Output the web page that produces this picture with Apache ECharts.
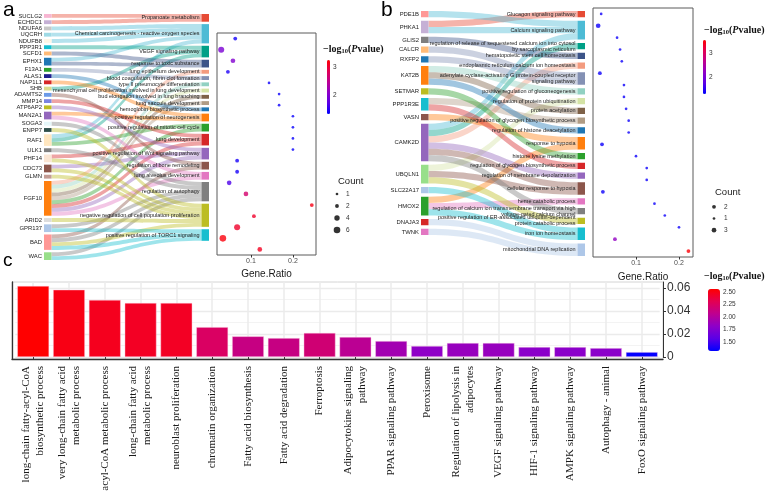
<!DOCTYPE html>
<html><head><meta charset="utf-8">
<script src="https://cdn.jsdelivr.net/npm/echarts@6/dist/echarts.min.js"></script>
<style>html,body{margin:0;padding:0;background:#fff}#c{width:766px;height:494px}</style>
</head><body><div id="c"></div>
<script>
// ---------------- Panel a data ----------------
const genesA = ['SUCLG2','ECHDC1','NDUFA6','UQCRH','NDUFB8','PPP3R1','SCFD1','EPHX1','F13A1','ALAS1','NAP1L1','SHB','ADAMTS2','MMP14','ATP6AP2','MAN2A1','SOGA3','ENPP7','RAF1','ULK1','PHF14','CDC73','GLMN','FGF10','ARID2','GPR137','BAD','WAC'];
const termsA = [
  'Propanoate metabolism',
  'Chemical carcinogenesis - reactive oxygen species',
  'VEGF signaling pathway',
  'response to toxic substance',
  'lung epithelium development',
  'blood coagulation, fibrin clot formation',
  'type II pneumocyte differentiation',
  'mesenchymal cell proliferation involved in lung development',
  'bud elongation involved in lung branching',
  'lung saccule development',
  'hemoglobin biosynthetic process',
  'positive regulation of neurogenesis',
  'positive regulation of mitotic cell cycle',
  'lung development',
  'positive regulation of Wnt signaling pathway',
  'regulation of bone remodeling',
  'lung alveolus development',
  'regulation of autophagy',
  'negative regulation of cell population proliferation',
  'positive regulation of TORC1 signaling'
];
// gene -> term index
const linksA = [
  ['SUCLG2',0],['ECHDC1',0],
  ['NDUFA6',1],['UQCRH',1],['NDUFB8',1],['EPHX1',1],['RAF1',1],
  ['PPP3R1',2],['RAF1',2],['SHB',2],
  ['EPHX1',3],['SCFD1',3],
  ['FGF10',4],['F13A1',5],['FGF10',6],['FGF10',7],['FGF10',8],['FGF10',9],['ALAS1',10],
  ['NAP1L1',11],['MAN2A1',11],
  ['FGF10',12],['RAF1',12],
  ['FGF10',13],['PHF14',13],['MMP14',13],
  ['FGF10',14],['CDC73',14],['ATP6AP2',14],
  ['ADAMTS2',15],['BAD',15],
  ['FGF10',16],['MAN2A1',16],
  ['ULK1',17],['SOGA3',17],['BAD',17],['WAC',17],['GPR137',17],
  ['PHF14',18],['CDC73',18],['GLMN',18],['ARID2',18],['ENPP7',18],['BAD',18],
  ['WAC',19],['GPR137',19],['BAD',19]
];
const ratioA = [0.0625,0.029,0.057,0.045,0.143,0.167,0.167,0.2,0.2,0.2,0.2,0.067,0.067,0.048,0.088,0.245,0.107,0.067,0.033,0.121];
const logPA  = [1.40,1.95,2.00,1.45,1.38,1.38,1.38,1.36,1.36,1.36,1.36,1.42,1.42,1.65,2.70,3.15,3.05,3.05,3.20,3.10];
const countA = [2,5,3,2,1,1,1,1,1,1,1,2,2,3,3,2,2,5,6,3];
const countLegendA = ['1','2','4','6'];
const cbTicksA = [2,3];
const geneRatioTicksA = [0.1,0.2];

// ---------------- Panel b data ----------------
const genesB = ['PDE1B','PHKA1','GLIS2','CALCR','RXFP2','KAT2B','SETMAR','PPP1R3E','VASN','CAMK2D','UBQLN1','SLC22A17','HMOX2','DNAJA3','TWNK'];
const termsB = [
  'Glucagon signaling pathway',
  'Calcium signaling pathway',
  'regulation of release of sequestered calcium ion into cytosol\nby sarcoplasmic reticulum',
  'hematopoietic stem cell homeostasis',
  'endoplasmic reticulum calcium ion homeostasis',
  'adenylate cyclase-activating G protein-coupled receptor\nsignaling pathway',
  'positive regulation of gluconeogenesis',
  'regulation of protein ubiquitination',
  'protein acetylation',
  'positive regulation of glycogen biosynthetic process',
  'regulation of histone deacetylation',
  'response to hypoxia',
  'histone lysine methylation',
  'regulation of glycogen biosynthetic process',
  'regulation of membrane depolarization',
  'cellular response to hypoxia',
  'heme catabolic process',
  'regulation of calcium ion transmembrane transport via high\nvoltage-gated calcium channel',
  'positive regulation of ER-associated ubiquitin-dependent\nprotein catabolic process',
  'iron ion homeostasis',
  'mitochondrial DNA replication'
];
const linksB = [
  ['PHKA1',0],
  ['PDE1B',1],['PHKA1',1],['CAMK2D',1],
  ['CAMK2D',2],
  ['GLIS2',3],
  ['CAMK2D',4],
  ['RXFP2',5],['CALCR',5],
  ['KAT2B',6],
  ['UBQLN1',7],
  ['KAT2B',8],
  ['PPP1R3E',9],
  ['KAT2B',10],
  ['VASN',11],['HMOX2',11],
  ['SETMAR',12],
  ['PPP1R3E',13],
  ['CAMK2D',14],
  ['CAMK2D',15],['UBQLN1',15],
  ['HMOX2',16],
  ['CAMK2D',17],
  ['UBQLN1',18],
  ['SLC22A17',19],['HMOX2',19],
  ['DNAJA3',20],['TWNK',20]
];
const ratioB = [0.019,0.012,0.056,0.063,0.067,0.016,0.072,0.072,0.077,0.083,0.083,0.021,0.1,0.125,0.125,0.023,0.143,0.167,0.2,0.051,0.222];
const logPB  = [1.42,1.40,1.40,1.40,1.40,1.40,1.40,1.40,1.40,1.40,1.40,1.40,1.40,1.40,1.40,1.40,1.40,1.40,1.40,2.25,3.50];
const countB = [1,3,1,1,1,2,1,1,1,1,1,2,1,1,1,2,1,1,1,2,2];
const countLegendB = ['2','1','3'];
const cbTicksB = [2,3];
const geneRatioTicksB = [0.1,0.2];

// ---------------- Panel c data ----------------
const catsC = [
  'long-chain fatty-acyl-CoA\nbiosynthetic process',
  'very long-chain fatty acid\nmetabolic process',
  'acyl-CoA metabolic process',
  'long-chain fatty acid\nmetabolic process',
  'neuroblast proliferation',
  'chromatin organization',
  'Fatty acid biosynthesis',
  'Fatty acid degradation',
  'Ferroptosis',
  'Adipocytokine signaling\npathway',
  'PPAR signaling pathway',
  'Peroxisome',
  'Regulation of lipolysis in\nadipocytes',
  'VEGF signaling pathway',
  'HIF-1 signaling pathway',
  'AMPK signaling pathway',
  'Autophagy - animal',
  'FoxO signaling pathway'
];
const ratioC = [0.0618,0.0585,0.0496,0.047,0.047,0.026,0.018,0.0165,0.021,0.0174,0.0139,0.0096,0.0122,0.0122,0.0087,0.0087,0.0078,0.0043];
const logPC  = [2.56,2.50,2.47,2.45,2.45,2.25,2.12,2.12,2.18,2.05,1.92,1.82,1.86,1.86,1.80,1.80,1.80,1.33];
const yTicksC = [0,0.02,0.04,0.06];
const cbTicksC = [1.5,1.75,2.0,2.25,2.5];

// ---------------- styles ----------------
const NARROW = "'Liberation Sans Narrow','Arial Narrow','Liberation Sans',Arial,sans-serif";
const SERIF = "'Liberation Serif','Times New Roman',serif";
const SANS = "'Liberation Sans',Arial,sans-serif";
const GRAD = ['#0000FF','#5A00E6','#8E00C8','#BE0090','#E30052','#FF0000'];
const TERM_COLORS = ['#E64B35','#4DBBD5','#00A087','#3C5488','#F39B7F','#8491B4','#91D1C2','#D4E3A5','#7E6148','#B09C85','#1F77B4','#FF7F0E','#2CA02C','#D62728','#9467BD','#8C564B','#E377C2','#7F7F7F','#BCBD22','#17BECF','#AEC7E8'];
const GENE_COLORS_A = ['#F7B6D2','#C5B0D5','#C7C7C7','#9EDAE5','#FFF6E6','#17BECF','#FFBB78','#1F77B4','#2CA02C','#1F1F8F','#D62728','#DBDB8D','#6C9BE8','#7B84E0','#BCBD22','#9467BD','#E6F7F9','#2F4F4A','#FFE6BF','#7F7F7F','#FBE6D4','#8C564B','#C49C94','#FF7F0E','#DCDCDC','#AEC7E8','#FF9896','#98DF8A'];
const GENE_COLORS_B = ['#FF9896','#C5B0D5','#7F7F7F','#FFBB78','#1F77B4','#FF7F0E','#BCBD22','#17BECF','#8C564B','#9467BD','#98DF8A','#AEC7E8','#2CA02C','#D62728','#E377C2'];

const dotSize = d => 2.7 * Math.sqrt(d[2]);

function sankeySeries(genes, geneColors, terms, links, box) {
  const data = genes.map((g, i) => ({name: g, depth: 0, itemStyle: {color: geneColors[i]}, label: {fontSize: 5.9}}))
    .concat(terms.map((t, i) => ({name: t, depth: 1, itemStyle: {color: TERM_COLORS[i]}, label: {fontSize: 5.5, lineHeight: 6}})));
  return Object.assign({
    type: 'sankey', nodeWidth: 7.5, layoutIterations: 0, draggable: false, silent: true,
    data: data,
    links: links.map(([g, t]) => ({source: g, target: terms[t], value: 1})),
    lineStyle: {color: 'target', opacity: 0.42, curveness: 0.5},
    itemStyle: {borderWidth: 0},
    label: {show: true, position: 'left', distance: 2, color: '#222', fontFamily: NARROW},
    emphasis: {disabled: true}
  }, box);
}

function cbTitle(left, top) {
  return {
    left: left, top: top, padding: 0,
    text: '{a|\u2212log}{s|10}{a|(}{i|P}{a|value)}',
    textStyle: {rich: {
      a: {fontFamily: SERIF, fontWeight: 'bold', fontSize: 10, color: '#111'},
      s: {fontFamily: SERIF, fontWeight: 'bold', fontSize: 6.5, color: '#111', padding: [5, 0, 0, 0]},
      i: {fontFamily: SERIF, fontWeight: 'bold', fontStyle: 'italic', fontSize: 10, color: '#111'}
    }}
  };
}
function letter(t, left, top, size) {
  return {text: t, left: left, top: top, padding: 0, textStyle: {fontFamily: SANS, fontWeight: 'normal', fontSize: size, color: '#000'}};
}
function countTitle(left, top) {
  return {text: 'Count', left: left, top: top, padding: 0, textStyle: {fontFamily: SANS, fontWeight: 'normal', fontSize: 9.5, color: '#1a1a1a'}};
}
const hiddenX = (gi, min, max) => ({type: 'value', gridIndex: gi, min: min, max: max, show: false});
function cbAxis(gi, min, max, ticks, fmt) {
  return {type: 'value', gridIndex: gi, min: min, max: max, position: 'right',
    axisLine: {show: false}, splitLine: {show: false},
    axisTick: {show: true, customValues: ticks, length: 2, lineStyle: {color: '#333'}},
    axisLabel: {customValues: ticks, fontSize: 6.5, margin: 3, color: '#333', fontFamily: SANS, formatter: fmt}};
}
function dotXAxis(gi, min, max, ticks, gap) {
  return {type: 'value', gridIndex: gi, min: min, max: max,
    axisLine: {show: false}, splitLine: {show: false},
    axisTick: {show: true, customValues: ticks, length: 2.5, lineStyle: {color: '#333'}},
    axisLabel: {customValues: ticks, fontSize: 7, margin: 3, color: '#4D4D4D', fontFamily: SANS},
    name: 'Gene.Ratio', nameLocation: 'middle', nameGap: gap,
    nameTextStyle: {fontSize: 10, color: '#1a1a1a', fontFamily: SANS}};
}
function catY(gi, data, extra) {
  return Object.assign({type: 'category', gridIndex: gi, data: data, inverse: true,
    axisLine: {show: false}, axisTick: {show: false}, splitLine: {show: false}, axisLabel: {show: false}}, extra || {});
}
const G = o => Object.assign({outerBoundsMode: 'none', containLabel: false}, o);

const option = {
  animation: false,
  backgroundColor: '#ffffff',
  textStyle: {fontFamily: SANS},
  title: [
    letter('a', 3, 0, 21), letter('b', 381, 0, 21), letter('c', 3, 251, 19),
    cbTitle(323, 43), cbTitle(704, 24), cbTitle(704, 270),
    countTitle(338, 176), countTitle(715, 187)
  ],
  grid: [
    G({left: 217, top: 33, width: 99, height: 222, show: true, borderColor: '#5A5A5A', borderWidth: 1, backgroundColor: 'transparent'}), // 0 dot a
    G({left: 593, top: 8, width: 100, height: 249, show: true, borderColor: '#5A5A5A', borderWidth: 1, backgroundColor: 'transparent'}), // 1 dot b
    G({left: 327, top: 60, width: 3, height: 54}),   // 2 cb a
    G({left: 703, top: 40, width: 3, height: 54}),   // 3 cb b
    G({left: 333, top: 188, width: 8, height: 48}),  // 4 count a
    G({left: 710, top: 201, width: 8, height: 35}),  // 5 count b
    G({left: 12, top: 282, width: 651, height: 77, show: true, borderColor: '#D4D4D4', borderWidth: 1, backgroundColor: 'transparent'}), // 6 frame c
    G({left: 15.3, top: 282, width: 644.4, height: 75}), // 7 bars c
    G({left: 708, top: 289, width: 12, height: 62})  // 8 cb c
  ],
  xAxis: [
    dotXAxis(0, 0.019, 0.255, geneRatioTicksA, 14),
    dotXAxis(1, 0.0, 0.2326, geneRatioTicksB, 12),
    hiddenX(2, 0, 1), hiddenX(3, 0, 1),
    hiddenX(4, -1, 1), hiddenX(5, -1, 1),
    {type: 'value', gridIndex: 6, min: 0, max: 1, axisLabel: {show: false}, axisTick: {show: false}, splitLine: {show: false},
      axisLine: {show: true, lineStyle: {color: '#333', width: 1.3}}},
    {type: 'category', gridIndex: 7, data: catsC, offset: 2,
      axisLine: {show: false},
      axisTick: {show: true, alignWithLabel: true, length: 3, lineStyle: {color: '#333'}},
      splitLine: {show: true, alignWithLabel: true, lineStyle: {color: '#EBEBEB', width: 1.5}},
      axisLabel: {interval: 0, rotate: 90, fontFamily: SERIF, fontSize: 11, lineHeight: 14, color: '#1a1a1a', margin: 7}},
    hiddenX(8, 0, 1)
  ],
  yAxis: [
    catY(0, termsA), catY(1, termsB),
    cbAxis(2, 1.32, 3.25, cbTicksA), cbAxis(3, 1.33, 3.54, cbTicksB),
    catY(4, countLegendA, {position: 'right', axisLabel: {show: true, fontSize: 6.5, margin: 5, color: '#333'}}),
    catY(5, countLegendB, {position: 'right', axisLabel: {show: true, fontSize: 6.5, margin: 6, color: '#333'}}),
    {type: 'value', gridIndex: 6, min: 0, max: 1, position: 'left', axisLabel: {show: false}, axisTick: {show: false}, splitLine: {show: false},
      axisLine: {show: true, lineStyle: {color: '#333', width: 1.3}}},
    {type: 'value', gridIndex: 7, min: 0, max: 0.0652, interval: 0.02, position: 'right', offset: 3.3,
      axisLine: {show: true, lineStyle: {color: '#333', width: 1}},
      axisTick: {show: true, customValues: yTicksC, length: 3, lineStyle: {color: '#333'}},
      axisLabel: {customValues: yTicksC, fontSize: 12, margin: 4, color: '#333', fontFamily: SANS,
        formatter: v => (v === 0 ? '0' : v.toFixed(2))},
      splitLine: {show: true, lineStyle: {color: '#EBEBEB', width: 1.3}},
      minorTick: {show: false, splitNumber: 2},
      minorSplitLine: {show: true, lineStyle: {color: '#F3F3F3', width: 1}}},
    cbAxis(8, 1.32, 2.56, cbTicksC, v => v.toFixed(2))
  ],
  visualMap: [
    {type: 'continuous', seriesIndex: 2, dimension: 3, min: 1.32, max: 3.25, inRange: {color: GRAD},
      left: 327, top: 60, itemWidth: 3, itemHeight: 54, padding: 0, calculable: false, hoverLink: false},
    {type: 'continuous', seriesIndex: 3, dimension: 3, min: 1.33, max: 3.54, inRange: {color: GRAD},
      left: 703, top: 40, itemWidth: 3, itemHeight: 54, padding: 0, calculable: false, hoverLink: false},
    {type: 'continuous', seriesIndex: 6, dimension: 2, min: 1.32, max: 2.56, inRange: {color: GRAD},
      left: 708, top: 289, itemWidth: 12, itemHeight: 62, padding: 0, calculable: false, hoverLink: false}
  ],
  series: [
    sankeySeries(genesA, GENE_COLORS_A, termsA, linksA, {left: 44, right: 557, top: 14, height: 246, nodeGap: 2.4}),
    sankeySeries(genesB, GENE_COLORS_B, termsB, linksB, {left: 421, right: 181, top: 11, height: 245, nodeGap: 3.5}),
    {type: 'scatter', xAxisIndex: 0, yAxisIndex: 0, symbolSize: dotSize,
      data: termsA.map((t, i) => [ratioA[i], t, countA[i], logPA[i]])},
    {type: 'scatter', xAxisIndex: 1, yAxisIndex: 1, symbolSize: dotSize,
      data: termsB.map((t, i) => [ratioB[i], t, countB[i], logPB[i]])},
    {type: 'scatter', xAxisIndex: 4, yAxisIndex: 4, symbolSize: dotSize, itemStyle: {color: '#000'},
      data: countLegendA.map(c => [0, c, Number(c)])},
    {type: 'scatter', xAxisIndex: 5, yAxisIndex: 5, symbolSize: dotSize, itemStyle: {color: '#000'},
      data: countLegendB.map(c => [0, c, Number(c)])},
    {type: 'bar', xAxisIndex: 7, yAxisIndex: 7, barWidth: '89%',
      itemStyle: {borderColor: 'rgba(255,210,230,0.7)', borderWidth: 0.6},
      data: catsC.map((c, i) => [c, ratioC[i], logPC[i]])}
  ]
};
const chart = echarts.init(document.getElementById('c'), null, {renderer: 'canvas'});
chart.setOption(option);
</script></body></html>
